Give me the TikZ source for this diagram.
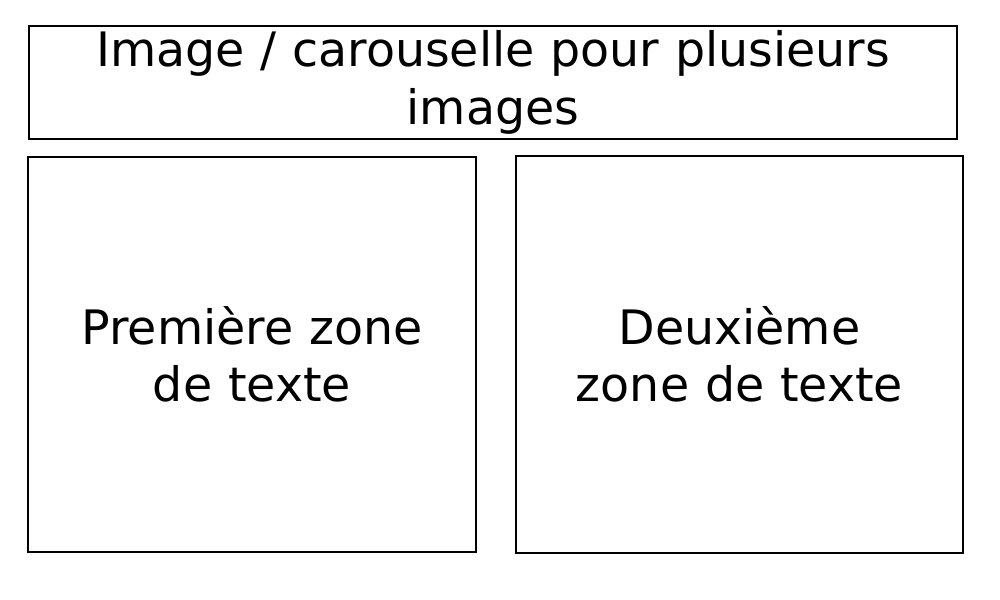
\documentclass[tikz,border=0pt]{standalone}
\usepackage{fontspec}
\setmainfont{DejaVu Sans}
\begin{document}
\begin{tikzpicture}[x=0.75pt,y=-0.75pt,
  box/.style={draw=black,line width=1.5*0.75pt,align=center,inner sep=0pt,font=\fontsize{35.6pt}{43pt}\selectfont}]
\useasboundingbox (0,0) rectangle (1000,600);
\node[box,minimum width=928*0.75pt,minimum height=113*0.75pt,text width=900*0.75pt] (top) at (493,82.5) {\raisebox{-3pt}{Image / carouselle pour plusieurs}\\\raisebox{-3pt}{images}};
\node[box,minimum width=448*0.75pt,minimum height=395*0.75pt,text width=420*0.75pt] (left) at (252,354.5) {Première zone\\de texte};
\node[box,minimum width=447*0.75pt,minimum height=397*0.75pt,text width=420*0.75pt] (right) at (739.5,354.5) {Deuxième\\zone de texte};
\end{tikzpicture}
\end{document}
